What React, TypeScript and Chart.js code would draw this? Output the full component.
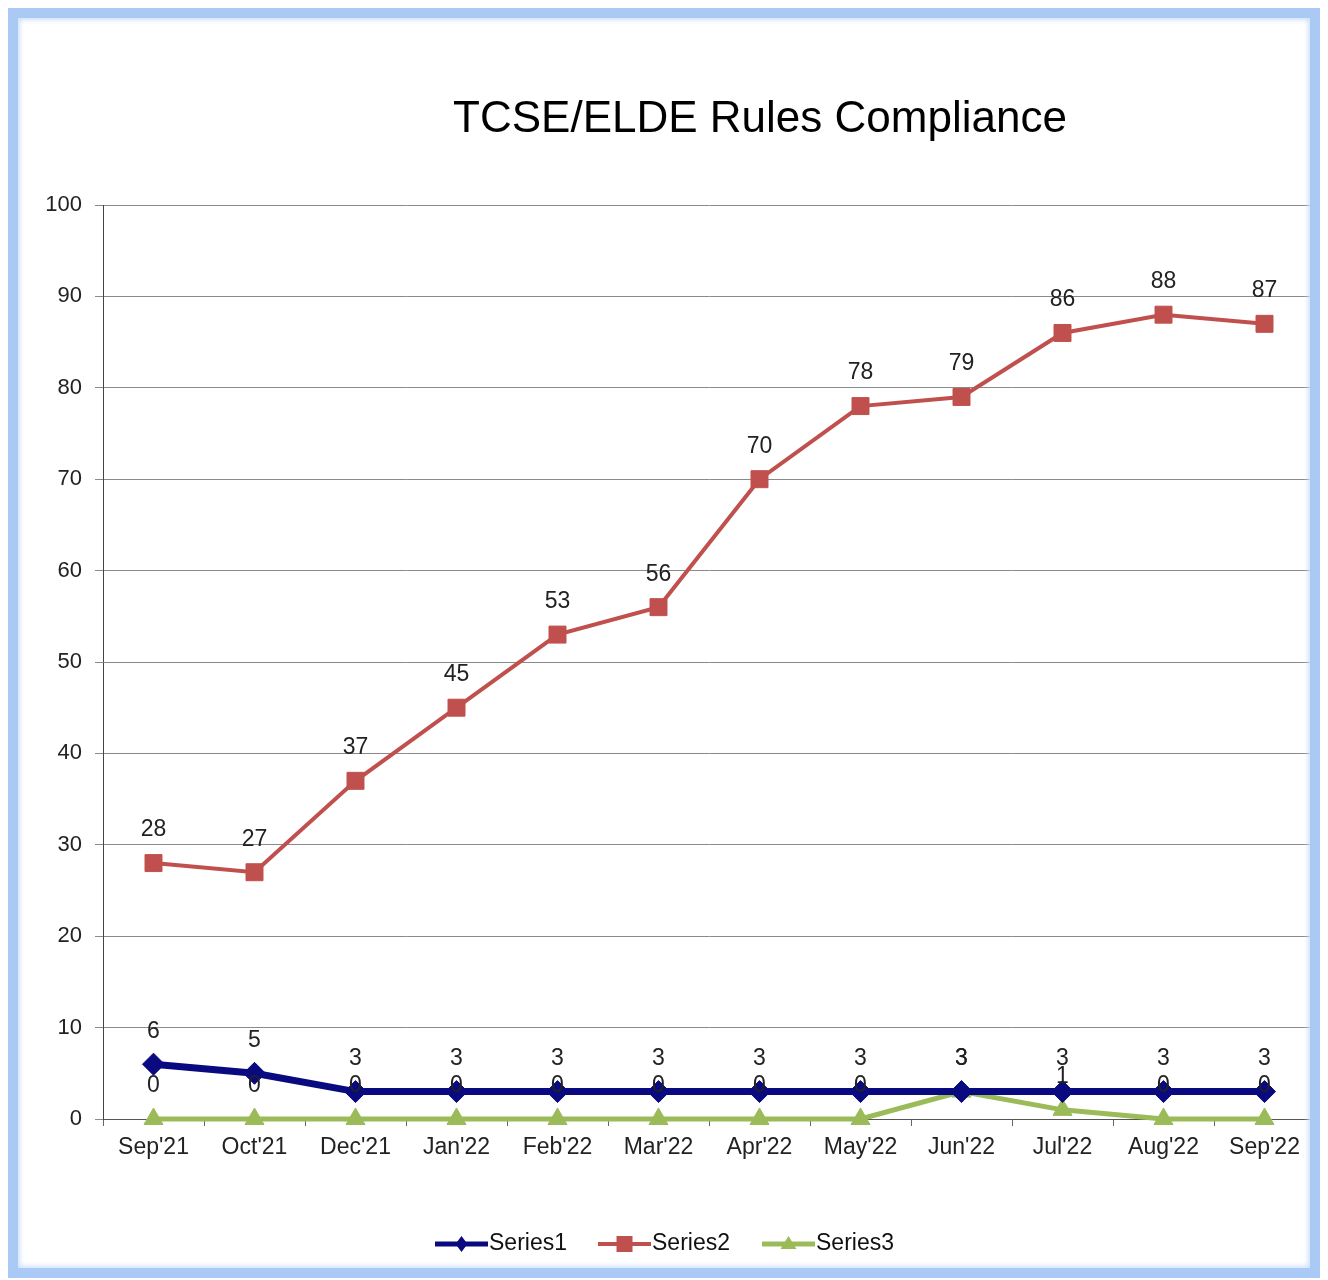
import React, { useEffect, useRef } from "react";
import { Chart, registerables } from "chart.js";

Chart.register(...registerables);

const categories = ["Sep'21", "Oct'21", "Dec'21", "Jan'22", "Feb'22", "Mar'22", "Apr'22", "May'22", "Jun'22", "Jul'22", "Aug'22", "Sep'22"];
const series1 = [6, 5, 3, 3, 3, 3, 3, 3, 3, 3, 3, 3];
const series2 = [28, 27, 37, 45, 53, 56, 70, 78, 79, 86, 88, 87];
const series3 = [0, 0, 0, 0, 0, 0, 0, 0, 3, 1, 0, 0];
const seriesNames = ["Series1", "Series2", "Series3"];
const titleText = "TCSE/ELDE Rules Compliance";

const FONT = "'Liberation Sans', Arial, sans-serif";

const labelPlugin = {
  id: "valueLabels",
  afterDatasetsDraw(chart: any) {
    const ctx = chart.ctx;
    ctx.save();
    ctx.font = `23px ${FONT}`;
    ctx.fillStyle = "#222";
    ctx.textAlign = "center";
    ctx.textBaseline = "middle";
    chart.data.datasets.forEach((ds: any, i: number) => {
      const meta = chart.getDatasetMeta(i);
      meta.data.forEach((pt: any, j: number) => {
        ctx.fillText(String(ds.data[j]), pt.x, pt.y - 33);
      });
    });
    ctx.restore();
  },
};

const titlePlugin = {
  id: "customTitle",
  afterDraw(chart: any) {
    const ctx = chart.ctx;
    ctx.save();
    ctx.font = `44px ${FONT}`;
    ctx.fillStyle = "#000";
    ctx.textAlign = "center";
    ctx.textBaseline = "middle";
    ctx.fillText(titleText, 752, 112);
    ctx.restore();
  },
};

const legendPlugin = {
  id: "customLegend",
  afterDraw(chart: any) {
    const ctx = chart.ctx;
    ctx.save();
    ctx.font = `23px ${FONT}`;
    ctx.textBaseline = "middle";
    ctx.textAlign = "left";
    const y = 1236;
    const starts = [427, 590, 754];
    chart.data.datasets.forEach((ds: any, i: number) => {
      const x0 = starts[i];
      const x1 = x0 + 53;
      ctx.strokeStyle = ds.borderColor;
      ctx.lineWidth = Math.min(ds.borderWidth, 5);
      ctx.beginPath();
      ctx.moveTo(x0, y);
      ctx.lineTo(x1, y);
      ctx.stroke();
      const cx = (x0 + x1) / 2;
      ctx.fillStyle = ds.pointBackgroundColor;
      ctx.beginPath();
      if (ds.pointStyle === "rectRot") {
        ctx.moveTo(cx, y - 8);
        ctx.lineTo(cx + 6, y);
        ctx.lineTo(cx, y + 8);
        ctx.lineTo(cx - 6, y);
      } else if (ds.pointStyle === "rect") {
        ctx.rect(cx - 8, y - 8, 16, 16);
      } else {
        ctx.moveTo(cx, y - 8);
        ctx.lineTo(cx + 8, y + 5);
        ctx.lineTo(cx - 8, y + 5);
      }
      ctx.closePath();
      ctx.fill();
      ctx.fillStyle = "#111";
      ctx.fillText(seriesNames[i], x1 + 1, y);
    });
    ctx.restore();
  },
};

export default function App() {
  const ref = useRef<HTMLCanvasElement>(null);
  useEffect(() => {
    if (!ref.current) return;
    const chart = new Chart(ref.current, {
      type: "line",
      data: {
        labels: categories,
        datasets: [
          {
            label: seriesNames[0],
            data: series1,
            borderColor: "#0a0a80",
            backgroundColor: "#0a0a80",
            pointBackgroundColor: "#0a0a80",
            pointBorderColor: "#0a0a80",
            borderWidth: 7,
            pointStyle: "rectRot",
            pointRadius: 11,
            pointBorderWidth: 1,
            clip: false,
          },
          {
            label: seriesNames[1],
            data: series2,
            borderColor: "#c0504d",
            backgroundColor: "#c0504d",
            pointBackgroundColor: "#c0504d",
            pointBorderColor: "#c0504d",
            borderWidth: 4,
            pointStyle: "rect",
            pointRadius: 12,
            pointBorderWidth: 1,
            clip: false,
          },
          {
            label: seriesNames[2],
            data: series3,
            borderColor: "#9bbb59",
            backgroundColor: "#9bbb59",
            pointBackgroundColor: "#9bbb59",
            pointBorderColor: "#9bbb59",
            borderWidth: 5,
            pointStyle: "triangle",
            pointRadius: 11,
            pointBorderWidth: 1,
            clip: false,
          },
        ],
      },
      options: {
        responsive: false,
        animation: false,
        layout: { padding: { top: 197, right: 5, left: 0, bottom: 0 } },
        plugins: {
          legend: { display: false },
          title: { display: false },
          tooltip: { enabled: false },
        },
        elements: { line: { tension: 0 } },
        scales: {
          x: {
            offset: true,
            grid: {
              offset: true,
              drawOnChartArea: false,
              drawTicks: true,
              tickLength: 7,
              color: "#666",
            },
            border: { color: "#555", width: 1 },
            ticks: {
              font: { family: FONT, size: 23 },
              color: "#222",
              padding: 8,
              maxRotation: 0,
              autoSkip: false,
            },
            afterFit(scale: any) {
              scale.height = 159;
            },
          },
          y: {
            min: 0,
            max: 100,
            grid: { color: "#8a8a8a", lineWidth: 1, tickLength: 8 },
            border: { color: "#444", width: 1 },
            ticks: {
              stepSize: 10,
              font: { family: FONT, size: 22 },
              color: "#222",
              padding: 13,
            },
            afterFit(scale: any) {
              scale.width = 95;
            },
          },
        },
      },
      plugins: [labelPlugin, titlePlugin, legendPlugin],
    });
    return () => chart.destroy();
  }, []);

  return (
    <div style={{ position: "relative", width: 1312, height: 1270, background: "#fff", overflow: "hidden" }}>
      <canvas ref={ref} width={1320} height={1270} style={{ display: "block" }} />
      <div
        style={{
          position: "absolute",
          inset: 0,
          border: "10px solid #aac9f4",
          boxShadow: "inset 0 0 5px 2px #cfe0fa, 0 0 3px 1px #cfe0fa",
          pointerEvents: "none",
        }}
      />
    </div>
  );
}
